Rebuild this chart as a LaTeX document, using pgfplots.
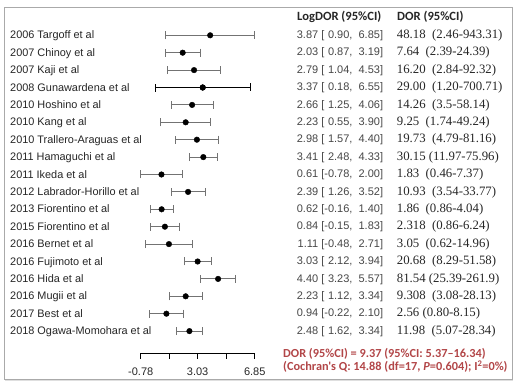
\documentclass[border=0pt]{standalone}
\usepackage{pgfplots}
\pgfplotsset{compat=1.18}
\usepackage{pgfplotstable}
\usepackage{fontspec}
\setmainfont{Liberation Sans}
\newfontfamily\dorfont{Liberation Serif}
\newfontfamily\calfont{Carlito}
\definecolor{bargray}{RGB}{115,115,115}
\definecolor{txt}{RGB}{38,38,38}
\definecolor{logtxt}{RGB}{70,70,70}
\definecolor{dred}{RGB}{178,70,72}
\definecolor{framegray}{RGB}{170,170,170}

\pgfplotstableread{
row est lo hi
1 3.87 0.90 6.85
2 2.03 0.87 3.19
3 2.79 1.04 4.53
4 3.37 0.18 6.55
5 2.66 1.25 4.06
6 2.23 0.55 3.90
7 2.98 1.57 4.40
8 3.41 2.48 4.33
9 0.61 -0.78 2.00
10 2.39 1.26 3.52
11 0.62 -0.16 1.40
12 0.84 -0.15 1.83
13 1.11 -0.48 2.71
14 3.03 2.12 3.94
15 4.40 3.23 5.57
16 2.23 1.12 3.34
17 0.94 -0.22 2.10
18 2.48 1.62 3.34
}\forestdata

\pgfplotstableread{
row est lo hi
4 3.37 0.18 6.55
}\blackrow

\begin{document}
\begin{tikzpicture}[x=1pt,y=1pt]
% frame
\fill[gray!25] (5,5.5) rectangle (513,8);
\draw[framegray, line width=0.7pt] (4,8) rectangle (512,380);

\begin{axis}[
  at={(0pt,0pt)}, anchor=south west,
  scale only axis, width=518pt, height=387pt,
  xmin=-10.198, xmax=24.474,
  ymin=-1.029, ymax=21.213,
  y dir=reverse,
  hide axis, clip=false,
]
\addplot[only marks, mark=*, mark size=2.8pt, black,
  error bars/.cd, x dir=both, x explicit,
  error bar style={line width=0.9pt, bargray},
  error mark options={line width=0.9pt, bargray, mark size=4pt, rotate=90}]
  table[x=est, y=row,
        x error plus expr=\thisrow{hi}-\thisrow{est},
        x error minus expr=\thisrow{est}-\thisrow{lo}] {\forestdata};
\addplot[only marks, mark=*, mark size=2.8pt, black,
  error bars/.cd, x dir=both, x explicit,
  error bar style={line width=0.9pt, black},
  error mark options={line width=0.9pt, black, mark size=4pt, rotate=90}]
  table[x=est, y=row,
        x error plus expr=\thisrow{hi}-\thisrow{est},
        x error minus expr=\thisrow{est}-\thisrow{lo}] {\blackrow};
\end{axis}

% scale axis
\begin{axis}[
  at={(140.7pt,34pt)}, anchor=south west,
  scale only axis, width=114pt, height=10pt,
  xmin=-0.78, xmax=6.85, ymin=0, ymax=1,
  axis x line*=bottom, axis y line=none,
  axis line style={black, line width=0.7pt},
  tick align=outside, major tick length=6pt,
  tick style={black, line width=0.7pt},
  xtick={-0.78,1.125,3.03,4.94,6.85},
  xticklabels={-0.78,,3.03,,6.85},
  xticklabel style={font=\fontsize{11}{12}\selectfont, text=txt, yshift=-5pt},
]
\addplot[draw=none] coordinates {(0,0)};
\end{axis}

% left labels and columns
\foreach \r/\a/\b/\c in {
 1/{2006 Targoff et al}/{3.87 [\hphantom{-}0.90,\ \ 6.85]}/{48.18\ \ (2.46-943.31)},
 2/{2007 Chinoy et al}/{2.03 [\hphantom{-}0.87,\ \ 3.19]}/{7.64\ \ (2.39-24.39)},
 3/{2007 Kaji et al}/{2.79 [\hphantom{-}1.04,\ \ 4.53]}/{16.20\ \ (2.84-92.32)},
 4/{2008 Gunawardena et al}/{3.37 [\hphantom{-}0.18,\ \ 6.55]}/{29.00\ \ (1.20-700.71)},
 5/{2010 Hoshino et al}/{2.66 [\hphantom{-}1.25,\ \ 4.06]}/{14.26\ \ (3.5-58.14)},
 6/{2010 Kang et al}/{2.23 [\hphantom{-}0.55,\ \ 3.90]}/{9.25\ \ (1.74-49.24)},
 7/{2010 Trallero-Araguas et al}/{2.98 [\hphantom{-}1.57,\ \ 4.40]}/{19.73\ \ (4.79-81.16)},
 8/{2011 Hamaguchi et al}/{3.41 [\hphantom{-}2.48,\ \ 4.33]}/{30.15 (11.97-75.96)},
 9/{2011 Ikeda et al}/{0.61 [-0.78,\ \ 2.00]}/{1.83\ \ (0.46-7.37)},
 10/{2012 Labrador-Horillo et al}/{2.39 [\hphantom{-}1.26,\ \ 3.52]}/{10.93\ \ (3.54-33.77)},
 11/{2013 Fiorentino et al}/{0.62 [-0.16,\ \ 1.40]}/{1.86\ \ (0.86-4.04)},
 12/{2015 Fiorentino et al}/{0.84 [-0.15,\ \ 1.83]}/{2.318\ \ (0.86-6.24)},
 13/{2016 Bernet et al}/{1.11 [-0.48,\ \ 2.71]}/{3.05\ \ (0.62-14.96)},
 14/{2016 Fujimoto et al}/{3.03 [\hphantom{-}2.12,\ \ 3.94]}/{20.68\ \ (8.29-51.58)},
 15/{2016 Hida et al}/{4.40 [\hphantom{-}3.23,\ \ 5.57]}/{81.54 (25.39-261.9)},
 16/{2016 Mugii et al}/{2.23 [\hphantom{-}1.12,\ \ 3.34]}/{9.308\ \ (3.08-28.13)},
 17/{2017 Best et al}/{0.94 [-0.22,\ \ 2.10]}/{2.56 (0.80-8.15)},
 18/{2018 Ogawa-Momohara et al}/{2.48 [\hphantom{-}1.62,\ \ 3.34]}/{11.98\ \ (5.07-28.34)}}
{
 \node[anchor=base west, inner sep=0pt, text=txt, font=\fontsize{10.9}{12}\selectfont]
   at (10, {348-(\r-1)*17.4}) {\a};
 \node[anchor=base east, inner sep=0pt, text=logtxt, font=\fontsize{11}{12}\selectfont]
   at (383.3, {348.5-(\r-1)*17.4}) {\b};
 \node[anchor=base west, inner sep=0pt, text=txt, font=\dorfont\fontsize{12.8}{14}\selectfont]
   at (396.7, {348.5-(\r-1)*17.4}) {\c};
}

% headers
\node[anchor=base west, inner sep=0pt, text=txt, font=\calfont\bfseries\fontsize{12.6}{14}\selectfont]
  at (297, 366) {LogDOR (95\%CI)};
\node[anchor=base west, inner sep=0pt, text=txt, font=\calfont\bfseries\fontsize{12.6}{14}\selectfont]
  at (397, 366) {DOR (95\%CI)};

% summary
\node[anchor=base west, inner sep=0pt, text=dred, font=\calfont\bfseries\fontsize{12.3}{14}\selectfont]
  at (283, 29.5) {DOR (95\%CI) = 9.37 (95\%CI: 5.37–16.34)};
\node[anchor=base west, inner sep=0pt, text=dred, font=\calfont\bfseries\fontsize{12.3}{14}\selectfont]
  at (283, 16) {(Cochran's Q: 14.88 (df=17, \textit{P}=0.604); I\textsuperscript{2}=0\%)};

\pgfresetboundingbox
\path (0,0) rectangle (518,387);
\end{tikzpicture}
\end{document}
